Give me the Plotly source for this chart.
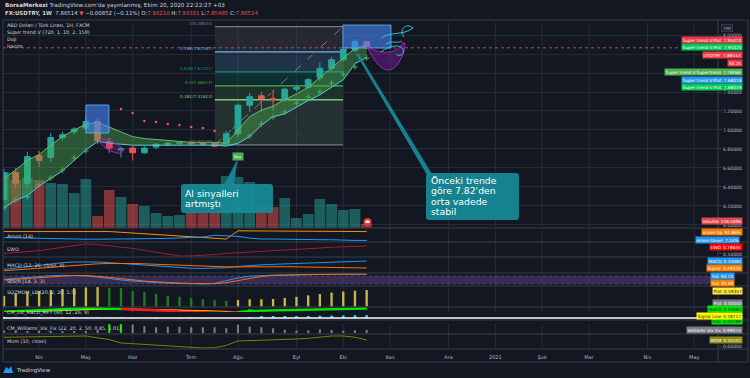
import math
from datetime import datetime, timedelta
import plotly.graph_objects as go

# ---------------- data (FX:USDTRY, 1W) ----------------
dates = ["2020-03-16", "2020-03-23", "2020-03-30", "2020-04-06", "2020-04-13",
         "2020-04-20", "2020-04-27", "2020-05-04", "2020-05-11", "2020-05-18",
         "2020-05-25", "2020-06-01", "2020-06-08", "2020-06-15", "2020-06-22",
         "2020-06-29", "2020-07-06", "2020-07-13", "2020-07-20", "2020-07-27",
         "2020-08-03", "2020-08-10", "2020-08-17", "2020-08-24", "2020-08-31",
         "2020-09-07", "2020-09-14", "2020-09-21", "2020-09-28", "2020-10-05",
         "2020-10-12", "2020-10-19"]

opens = [6.27, 6.55, 6.44, 6.73, 6.71, 6.92, 6.98, 7.02, 7.09, 6.88, 6.79, 6.81,
         6.76, 6.82, 6.85, 6.86, 6.865, 6.86, 6.86, 6.85, 6.96, 7.26, 7.36, 7.33,
         7.32, 7.43, 7.45, 7.55, 7.65, 7.74, 7.84, 7.93210]
highs = [6.59, 6.60, 6.77, 6.78, 6.97, 6.98, 7.03, 7.13, 7.12, 6.92, 6.83, 6.83,
         6.83, 6.86, 6.87, 6.88, 6.88, 6.87, 6.87, 6.99, 7.28, 7.39, 7.40, 7.42,
         7.44, 7.47, 7.55, 7.71, 7.77, 7.87, 7.96, 7.93331]
lows = [6.25, 6.39, 6.40, 6.61, 6.66, 6.89, 6.95, 7.00, 6.85, 6.76, 6.71, 6.68,
        6.75, 6.80, 6.83, 6.84, 6.84, 6.83, 6.82, 6.84, 6.92, 7.19, 7.19, 7.20,
        7.30, 7.40, 7.43, 7.52, 7.62, 7.72, 7.82, 7.85485]
closes = [6.55, 6.44, 6.72, 6.68, 6.92, 6.95, 7.01, 7.09, 6.89, 6.81, 6.80, 6.76,
          6.81, 6.85, 6.86, 6.865, 6.855, 6.85, 6.83, 6.96, 7.26, 7.35, 7.33, 7.32,
          7.43, 7.45, 7.53, 7.65, 7.74, 7.85, 7.93, 7.86514]
volume_k = [1624, 1392, 1450, 1392, 1305, 1276, 1015, 1421, 348, 1102, 899, 696,
            638, 435, 348, 377, 464, 464, 464, 1508, 1479, 1334, 609, 609, 870,
            290, 406, 841, 696, 522, 551, 116.549]

st_upper = [6.49, 6.58, 6.68, 6.74, 6.84, 6.93, 7.00, 7.06, 7.08, 7.03, 6.98, 6.93,
            6.91, 6.90, 6.89, 6.88, 6.87, 6.87, 6.87, 6.86, 7.00, 7.14, 7.21, 7.25,
            7.32, 7.38, 7.45, 7.55, 7.65, 7.76, 7.86, 7.89]
st_lower = [6.18, 6.26, 6.31, 6.41, 6.49, 6.57, 6.68, 6.79, 6.88, 6.86, 6.85, 6.84,
            6.84, 6.84, 6.84, 6.84, 6.84, 6.84, 6.84, 6.83, 6.86, 6.93, 7.05, 7.14,
            7.17, 7.24, 7.31, 7.37, 7.45, 7.53, 7.70, 7.76]
st_up_dots = [6.18, 6.263, 6.295, 6.421, 6.495, 6.579, 6.705, 6.779,
              None, None, None, None, None, None, None, None, None, None, None, None, None,
              6.937, 7.063, 7.137, 7.189, 7.284, 7.347, 7.400, 7.495, 7.589, 7.663, 7.758]
st_down_dots = [None, None, None, None, None, None, None, None, None, None,
                7.221, 7.179, 7.095, 7.084, 7.063, 7.053, 7.032, 7.021, 6.989,
                None, None, None, None, None, None, None, None, None, None, None, None, None]

aroon_up = [93, 93, 93, 93, 93, 93, 93, 93, 100, 93, 86, 79, 71, 64, 57, 50, 43, 36,
            29, 21, 100, 100, 100, 93, 100, 100, 100, 100, 100, 100, 100, 92.86]
aroon_down = [35, 32, 29, 25, 22, 19, 19, 19, 19, 19, 19, 21, 23, 25, 27, 31, 36, 40,
              57, 50, 46, 29, 21, 21, 18, 14, 14, 14, 14, 7, 7, 7.14]
ewo = [0.52, 0.55, 0.59, 0.62, 0.68, 0.74, 0.80, 0.86, 0.84, 0.80, 0.75, 0.70, 0.63,
       0.56, 0.49, 0.43, 0.43, 0.45, 0.48, 0.52, 0.55, 0.58, 0.60, 0.62, 0.64, 0.67,
       0.70, 0.72, 0.74, 0.76, 0.78, 0.78655]
macd = [0.285, 0.293, 0.302, 0.310, 0.318, 0.325, 0.329, 0.331, 0.329, 0.325, 0.320,
        0.315, 0.309, 0.303, 0.298, 0.294, 0.292, 0.291, 0.292, 0.295, 0.302, 0.308,
        0.312, 0.315, 0.318, 0.321, 0.324, 0.327, 0.329, 0.331, 0.333, 0.33481]
macd_signal = [0.277, 0.281, 0.286, 0.291, 0.297, 0.303, 0.309, 0.314, 0.318, 0.320,
               0.321, 0.320, 0.318, 0.315, 0.312, 0.308, 0.305, 0.303, 0.301, 0.300,
               0.300, 0.301, 0.302, 0.302, 0.301, 0.300, 0.299, 0.298, 0.297, 0.296,
               0.295, 0.29320]
stoch_k = [55, 62, 70, 78, 82, 85, 83, 80, 72, 60, 50, 42, 35, 30, 26, 24, 22, 20, 25,
           45, 65, 78, 84, 86, 88, 90, 91, 92, 93, 94, 93, 93.73]
stoch_d = [50, 56, 62, 70, 77, 82, 84, 83, 78, 70, 60, 50, 42, 36, 30, 27, 24, 22, 22,
           30, 45, 63, 76, 83, 86, 88, 90, 91, 92, 93, 93.5, 93.69]
sqz_mom = [0.38, 0.45, 0.52, 0.56, 0.59, 0.63, 0.66, 0.69, 0.70, 0.67, 0.66, 0.56, 0.52,
           0.45, 0.38, 0.35, 0.30, 0.26, 0.23, 0.20, 0.23, 0.26, 0.26, 0.27, 0.31, 0.35,
           0.40, 0.45, 0.50, 0.54, 0.57, 0.59357]
cm_macd = [0.303, 0.308, 0.314, 0.320, 0.326, 0.331, 0.335, 0.337, 0.336, 0.333, 0.330,
           0.327, 0.322, 0.317, 0.312, 0.306, 0.301, 0.297, 0.294, 0.293, 0.297, 0.310,
           0.314, 0.317, 0.320, 0.323, 0.326, 0.328, 0.330, 0.332, 0.334, 0.33481]
cm_signal = [0.295, 0.298, 0.302, 0.307, 0.312, 0.317, 0.322, 0.326, 0.329, 0.331, 0.329,
             0.330, 0.328, 0.325, 0.322, 0.318, 0.314, 0.310, 0.306, 0.302, 0.298, 0.297,
             0.296, 0.295, 0.294, 0.293, 0.292, 0.291, 0.290, 0.289, 0.288, 0.28712]
vix_fix = [0.9, 0.8, 0.6, 0.6, 0.5, 0.5, 0.5, 0.5, 1.0, 3.0, 3.0, 2.8, 2.3, 1.9, 2.1, 2.1,
           1.9, 1.9, 1.9, 1.6, 2.8, 2.1, 1.9, 1.6, 1.1, 0.8, 0.9, 1.2, 1.0, 0.8, 0.9, 0.99074]
vix_alert = [0, 0, 0, 0, 0, 0, 0, 0, 0, 1, 1, 0, 0, 0, 0, 0, 0, 0, 0, 0, 0, 0, 0, 0, 0,
             0, 0, 0, 0, 0, 0, 0]
mom = [0.75, 0.77, 0.78, 0.80, 0.80, 0.81, 0.82, 0.86, 0.70, 0.55, 0.26, 0.20, 0.12, 0.05,
       0.0, -0.09, -0.12, -0.17, -0.15, 0.05, 0.43, 0.46, 0.48, 0.50, 0.55, 0.60, 0.66,
       0.73, 0.86, 0.86, 0.75, 0.51551]

month_ticks = ["2020-04-06", "2020-05-04", "2020-06-01", "2020-07-06", "2020-08-03",
               "2020-09-07", "2020-10-05", "2020-11-02", "2020-12-07", "2021-01-04",
               "2021-02-01", "2021-03-01", "2021-04-05", "2021-05-03"]
month_labels = ["Nis", "May", "Haz", "Tem", "Ağu", "Eyl", "Eki", "Kas", "Ara", "2021",
                "Şub", "Mar", "Nis", "May"]
price_ticks = [6.0, 6.2, 6.4, 6.6, 6.8, 7.0, 7.2, 7.4, 7.6, 7.8, 8.0]
price_tick_text = ["6.00000", "6.20000", "6.40000", "6.60000", "6.80000", "7.00000",
                   "7.20000", "7.40000", "", "", "8.00000"]  # 7.6/7.8 hidden behind tags
fib_levels = [1, 0.786, 0.618, 0.5, 0.382, 0]
fib_low, fib_high = 6.84220, 8.08834
last_price = 7.86514

# ---------------- helpers ----------------
W0 = datetime(2020, 3, 16)


def W(f):
    return W0 + timedelta(days=7 * f)


def X(px):
    return (px - 3) / 715.0


def Y(py):
    return (349 - py) / 327.0


BG = "#131722"
GRID = "#262a35"
SEP = "#3a3e4a"
TXT = "#b2b5be"
LBL = "#d1d4dc"
FONT = "DejaVu Sans"
UP = "#26a69a"
DN = "#ef5350"
WEEK_MS = 7 * 86400000

fig = go.Figure()

# volume (base axis of the main pane, drawn behind price)
vol_colors = ["rgba(38,166,154,0.5)" if c >= o else "rgba(239,83,80,0.5)"
              for o, c in zip(opens, closes)]
fig.add_bar(x=dates, y=volume_k, marker=dict(color=vol_colors, line=dict(width=0)),
            width=WEEK_MS * 0.92, xaxis="x", yaxis="y")

# super trend band
fig.add_scatter(x=dates, y=st_lower, mode="lines", line=dict(color="#4dd0e1", width=1),
                xaxis="x", yaxis="y2")
fig.add_scatter(x=dates, y=st_upper, mode="lines", line=dict(color="#66bb6a", width=1),
                fill="tonexty", fillcolor="rgba(76,175,80,0.42)", xaxis="x", yaxis="y2")

# candles
fig.add_trace(go.Candlestick(
    x=dates, open=opens, high=highs, low=lows, close=closes,
    increasing=dict(line=dict(color=UP, width=1), fillcolor=UP),
    decreasing=dict(line=dict(color=DN, width=1), fillcolor=DN),
    whiskerwidth=0, xaxis="x", yaxis="y2"))

fig.add_scatter(x=dates, y=st_up_dots, mode="markers",
                marker=dict(symbol="cross-thin", size=4, color="#4caf50",
                            line=dict(color="#4caf50", width=1)),
                xaxis="x", yaxis="y2")
fig.add_scatter(x=dates, y=st_down_dots, mode="markers",
                marker=dict(symbol="circle", size=2.6, color="#ef5350"),
                xaxis="x", yaxis="y2")

# Aroon
fig.add_scatter(x=dates, y=aroon_up, mode="lines", line=dict(color="#fb8c00", width=1),
                xaxis="x", yaxis="y3")
fig.add_scatter(x=dates, y=aroon_down, mode="lines", line=dict(color="#2196f3", width=1),
                xaxis="x", yaxis="y3")
# EWO
fig.add_scatter(x=dates, y=ewo, mode="lines", line=dict(color="#a31c2e", width=1),
                xaxis="x", yaxis="y4")
# MACD
fig.add_scatter(x=dates, y=macd, mode="lines", line=dict(color="#2196f3", width=1),
                xaxis="x", yaxis="y5")
fig.add_scatter(x=dates, y=macd_signal, mode="lines", line=dict(color="#ff6d00", width=1),
                xaxis="x", yaxis="y5")
# Stoch
fig.add_scatter(x=dates, y=stoch_k, mode="lines", line=dict(color="#2196f3", width=1),
                xaxis="x", yaxis="y6")
fig.add_scatter(x=dates, y=stoch_d, mode="lines", line=dict(color="#ff6d00", width=1),
                xaxis="x", yaxis="y6")
# SQZMOM
sqz_colors = ["#c9b844" if (i == 0 or v >= sqz_mom[i - 1]) else "#1e7d1e"
              for i, v in enumerate(sqz_mom)]
fig.add_bar(x=dates, y=sqz_mom, marker=dict(color=sqz_colors, line=dict(width=0)),
            width=WEEK_MS * 0.2, xaxis="x", yaxis="y7")

# CM Ult MacD MTF : colored macd segments + signal + histogram
fig.add_scatter(x=dates, y=cm_signal, mode="lines", line=dict(color="#ffff00", width=1.2),
                xaxis="x", yaxis="y8")
state = [m >= s for m, s in zip(cm_macd, cm_signal)]
seg_start = 0
for i in range(1, len(dates) + 1):
    if i == len(dates) or state[i] != state[seg_start]:
        lo = max(seg_start - 1, 0)
        fig.add_scatter(x=dates[lo:i], y=cm_macd[lo:i], mode="lines",
                        line=dict(color="#00e600" if state[seg_start] else "#ff1a1a", width=2.4),
                        xaxis="x", yaxis="y8")
        seg_start = i
cross_idx = [i for i in range(1, len(dates)) if state[i] != state[i - 1]]
fig.add_scatter(x=[dates[i] for i in cross_idx], y=[cm_macd[i] for i in cross_idx],
                mode="markers",
                marker=dict(symbol="square", size=3.5,
                            color=["#00e600" if state[i] else "#ff1a1a" for i in cross_idx]),
                xaxis="x", yaxis="y8")
cm_hist = [m - s for m, s in zip(cm_macd, cm_signal)]
hist_colors = []
for i, h in enumerate(cm_hist):
    prev = cm_hist[i - 1] if i else h
    if h >= 0:
        hist_colors.append("#00e5ff" if h >= prev else "#2962ff")
    else:
        hist_colors.append("#ff1a1a" if h <= prev else "#880e4f")
fig.add_bar(x=dates, y=cm_hist, marker=dict(color=hist_colors, line=dict(width=0)),
            width=WEEK_MS * 0.22, xaxis="x", yaxis="y9")

# Williams Vix Fix
vix_colors = ["#00e600" if a else "#787b86" for a in vix_alert]
fig.add_bar(x=dates, y=vix_fix, marker=dict(color=vix_colors, line=dict(width=0)),
            width=WEEK_MS * 0.18, xaxis="x", yaxis="y10")
# Momentum
fig.add_scatter(x=dates, y=mom, mode="lines", line=dict(color="#808000", width=1),
                xaxis="x", yaxis="y11")


# ---------------- axes ----------------
def pane(lo, hi, rng, **kw):
    d = dict(domain=[Y(lo), Y(hi)], range=rng, anchor="x", showgrid=False,
             zeroline=False, showticklabels=False, ticks="", fixedrange=True,
             showline=False)
    d.update(kw)
    return d


tickfont = dict(size=4.6, color=TXT, family=FONT)
layout_axes = dict(
    yaxis=pane(228, 22, [0, 206 * 29]),
    yaxis2=dict(overlaying="y", side="right", anchor="x", range=[5.968, 8.137],
                tickvals=price_ticks, ticktext=price_tick_text,
                tickfont=tickfont, showgrid=True, gridcolor=GRID, gridwidth=1,
                zeroline=False, ticks="outside", ticklen=3, tickcolor=SEP,
                showline=False, fixedrange=True),
    yaxis3=pane(242, 230, [-8, 108]),
    yaxis4=pane(257, 242, [0.392, 0.930], side="right", showticklabels=True,
                tickvals=[0.5], ticktext=["0.50000"], tickfont=tickfont,
                ticks="outside", ticklen=3, tickcolor=SEP),
    yaxis5=pane(273, 257, [0.2635, 0.3586]),
    yaxis6=pane(286, 273, [5, 102]),
    yaxis7=pane(307, 286, [-0.02, 0.74]),
    yaxis8=pane(318, 307, [0.24, 0.35]),
    yaxis9=pane(324, 312, [-0.1, 0.1]),
    yaxis10=pane(333, 320, [0, 4.33]),
    yaxis11=pane(349, 335, [-0.258, 0.945], side="right", showticklabels=True,
                 tickvals=[0], ticktext=["0.00000"], tickfont=tickfont,
                 ticks="outside", ticklen=3, tickcolor=SEP),
    xaxis=dict(type="date", range=[W(-0.085), W(61.03)], domain=[0, 1], anchor="free",
               position=0, tickvals=month_ticks, ticktext=month_labels, showgrid=False,
               zeroline=False, ticks="", tickfont=dict(size=5, color=TXT, family=FONT),
               rangeslider=dict(visible=False), showline=False, fixedrange=True,
               ticklabelstandoff=4),
)

# ---------------- shapes ----------------
shapes = []
for t in month_ticks:
    shapes.append(dict(type="line", xref="x", yref="paper", x0=t, x1=t, y0=0, y1=1,
                       line=dict(color=GRID, width=1), layer="below"))
for py in [20, 228, 242, 257, 273, 286, 307, 320, 334, 349, 362]:
    shapes.append(dict(type="line", xref="paper", yref="paper", x0=X(3), x1=X(748),
                       y0=Y(py), y1=Y(py), line=dict(color=SEP, width=1), layer="above"))
for px in [3, 718, 748]:
    shapes.append(dict(type="line", xref="paper", yref="paper", x0=X(px), x1=X(px),
                       y0=Y(20), y1=Y(362), line=dict(color=SEP, width=1), layer="above"))
shapes.append(dict(type="line", xref="paper", yref="paper", x0=0, x1=X(714), y0=Y(318),
                   y1=Y(318), line=dict(color="#ffffff", width=1.6), layer="above"))
shapes.append(dict(type="rect", xref="paper", yref="y6", x0=0, x1=1, y0=20, y1=80,
                   fillcolor="rgba(126,87,194,0.32)", line=dict(width=0), layer="below"))
for lv in (20, 80):
    shapes.append(dict(type="line", xref="paper", yref="y6", x0=0, x1=1, y0=lv, y1=lv,
                       line=dict(color="#5d6070", width=0.6, dash="dot"), layer="below"))

# fib retracement
fib_colors = ["#787b86", "#64b5f6", "#089981", "#4caf50", "#81c784", "#787b86"]
fib_fill = ["rgba(120,123,134,0.18)", "rgba(100,181,246,0.18)", "rgba(8,153,129,0.18)",
            "rgba(76,175,80,0.18)", "rgba(129,199,132,0.16)"]
fib_prices = [fib_low + lv * (fib_high - fib_low) for lv in fib_levels]
for k in range(len(fib_levels) - 1):
    shapes.append(dict(type="rect", xref="x", yref="y2", x0=W(18.03), x1=W(28.97),
                       y0=fib_prices[k + 1], y1=fib_prices[k], fillcolor=fib_fill[k],
                       line=dict(width=0), layer="below"))
for k, p in enumerate(fib_prices):
    shapes.append(dict(type="line", xref="x", yref="y2", x0=W(18.03), x1=W(28.97),
                       y0=p, y1=p, line=dict(color=fib_colors[k], width=1.3), layer="below"))
shapes.append(dict(type="line", xref="x", yref="y2", x0=W(18.03), x1=W(28.97),
                   y0=fib_low, y1=fib_high, line=dict(color="#787b86", width=1, dash="dash"),
                   layer="below"))

shapes.append(dict(type="line", xref="paper", yref="y2", x0=0, x1=1, y0=last_price,
                   y1=last_price, line=dict(color="#ef5350", width=0.8, dash="dot"),
                   layer="above"))

for x0, x1, y0, y1 in [(7.0, 8.97, 6.968, 7.263), (28.97, 33.08, 7.863, 8.105)]:
    shapes.append(dict(type="rect", xref="x", yref="y2", x0=W(x0), x1=W(x1), y0=y0, y1=y1,
                       fillcolor="rgba(66,133,244,0.62)", line=dict(color="#64b5f6", width=0.8),
                       layer="above"))


def P(pts):
    return " ".join(("%s %.5f,%.5f" % (c, X(a), Y(b))) for c, a, b in pts)


ell = []
for j in range(25):
    t = 2 * math.pi * j / 24
    ex, ey = 13 * math.cos(t), 4.5 * math.sin(t)
    ang = math.radians(28)
    ell.append(("M" if j == 0 else "L", 111 + ex * math.cos(ang) - ey * math.sin(ang),
                146 + ex * math.sin(ang) + ey * math.cos(ang)))
shapes.append(dict(type="path", xref="paper", yref="paper", path=P(ell) + " Z",
                   fillcolor="rgba(156,39,176,0.25)", line=dict(color="#9c27b0", width=1),
                   layer="above"))
cres = ("M %.5f,%.5f Q %.5f,%.5f %.5f,%.5f Q %.5f,%.5f %.5f,%.5f Q %.5f,%.5f %.5f,%.5f Z" % (
    X(367), Y(47), X(384), Y(82), X(398), Y(64), X(407), Y(50), X(404), Y(42),
    X(392), Y(60), X(367), Y(47)))
shapes.append(dict(type="path", xref="paper", yref="paper", path=cres,
                   fillcolor="rgba(123,31,162,0.45)", line=dict(color="#9c27b0", width=1),
                   layer="above"))
for stroke in [
    "M %.5f,%.5f C %.5f,%.5f %.5f,%.5f %.5f,%.5f C %.5f,%.5f %.5f,%.5f %.5f,%.5f" % (
        X(381), Y(38), X(392), Y(31), X(402), Y(36), X(413), Y(28),
        X(406), Y(22), X(398), Y(30), X(404), Y(37)),
    "M %.5f,%.5f C %.5f,%.5f %.5f,%.5f %.5f,%.5f" % (
        X(386), Y(44), X(392), Y(40), X(398), Y(44), X(402), Y(41)),
    "M %.5f,%.5f C %.5f,%.5f %.5f,%.5f %.5f,%.5f C %.5f,%.5f %.5f,%.5f %.5f,%.5f" % (
        X(381), Y(52), X(390), Y(45), X(400), Y(44), X(403), Y(49),
        X(405), Y(55), X(399), Y(57), X(396), Y(54)),
]:
    shapes.append(dict(type="path", xref="paper", yref="paper", path=stroke,
                       line=dict(color="#26c6da", width=1), layer="above"))


def rrect(x0, y0, x1, y1, r):
    return ("M %.5f,%.5f L %.5f,%.5f Q %.5f,%.5f %.5f,%.5f L %.5f,%.5f Q %.5f,%.5f %.5f,%.5f "
            "L %.5f,%.5f Q %.5f,%.5f %.5f,%.5f L %.5f,%.5f Q %.5f,%.5f %.5f,%.5f Z") % (
        X(x0 + r), Y(y0), X(x1 - r), Y(y0), X(x1), Y(y0), X(x1), Y(y0 + r),
        X(x1), Y(y1 - r), X(x1), Y(y1), X(x1 - r), Y(y1),
        X(x0 + r), Y(y1), X(x0), Y(y1), X(x0), Y(y1 - r),
        X(x0), Y(y0 + r), X(x0), Y(y0), X(x0 + r), Y(y0))


CALL = "rgba(20,140,152,0.93)"
shapes.append(dict(type="path", xref="paper", yref="paper",
                   path=P([("M", 224, 185), ("L", 234, 185), ("L", 237.5, 159)]) + " Z",
                   fillcolor=CALL, line=dict(width=0), layer="above"))
shapes.append(dict(type="path", xref="paper", yref="paper", path=rrect(181, 184, 273, 213, 3),
                   fillcolor=CALL, line=dict(width=0), layer="above"))
shapes.append(dict(type="path", xref="paper", yref="paper",
                   path=P([("M", 356, 54), ("L", 358.5, 53.5), ("L", 432, 174), ("L", 426.5, 174)]) + " Z",
                   fillcolor=CALL, line=dict(width=0), layer="above"))
shapes.append(dict(type="path", xref="paper", yref="paper", path=rrect(426, 173, 519, 220, 3),
                   fillcolor=CALL, line=dict(width=0), layer="above"))

shapes.append(dict(type="circle", xref="paper", yref="paper", x0=X(363.5), x1=X(371.5),
                   y0=Y(226), y1=Y(218), fillcolor="#e53935", line=dict(width=0), layer="above"))
shapes.append(dict(type="rect", xref="paper", yref="paper", x0=X(365.5), x1=X(369.5),
                   y0=Y(223), y1=Y(220.5), fillcolor="#e3f2fd", line=dict(width=0), layer="above"))
shapes.append(dict(type="path", xref="paper", yref="paper",
                   path=P([("M", 3, 373), ("L", 6, 367), ("L", 9, 369), ("L", 11, 366),
                           ("L", 13, 373)]) + " Z",
                   fillcolor="#2196f3", line=dict(width=0), layer="above"))

# ---------------- annotations ----------------
ann = []


def text(t, xpx, ypx, size=5, color=LBL, xanchor="left", yanchor="middle", **kw):
    d = dict(text=t, x=X(xpx), y=Y(ypx), xref="paper", yref="paper", xanchor=xanchor,
             yanchor=yanchor, showarrow=False, font=dict(size=size, color=color, family=FONT))
    d.update(kw)
    ann.append(d)


RED = "#ef5350"
text("<b>BorsaMerkezi</b> TradingView.com'da yayınlanmış, Ekim 20, 2020 22:22:27 +03",
     3, 5.5, size=5.6)
text("<b>FX:USDTRY, 1W</b>  7.86514 <span style='color:%s'>▼</span> −0.00852 (−0.11%%) "
     "O:<span style='color:%s'>7.93210</span> H:<span style='color:%s'>7.93331</span> "
     "L:<span style='color:%s'>7.85485</span> C:<span style='color:%s'>7.86514</span>"
     % (RED, RED, RED, RED, RED), 3, 13.5, size=5.4)

for t, ypx in [("ABD Doları / Türk Lirası, 1H, FXCM", 25), ("Super trend V (720, 1, 10, 2, 150)", 32.5),
               ("Doji", 39.5), ("Hacim", 46.5), ("Aroon (14)", 236), ("EWO", 249),
               ("MACD (12, 26, close, 9)", 265), ("Stoch (14, 3, 3)", 280.5),
               ("SQZMOM_LB (20, 2, 20, 1.5)", 292.5), ("CM_Ult_MacD_MFT (60, 12, 26, 9)", 312),
               ("CM_Williams_Vix_Fix (22, 20, 2, 50, 0.85, 1.01)", 328.5), ("Mom (10, close)", 340.5)]:
    text(t, 6, ypx, size=4.9, color=LBL, borderpad=0)

for k, lv in enumerate(fib_levels):
    ann.append(dict(text="%s(%.5f)" % (("%g" % lv), fib_prices[k]), x=W(18.03), y=fib_prices[k],
                    xref="x", yref="y2", xanchor="right", yanchor="bottom", xshift=-1,
                    showarrow=False, borderpad=0,
                    font=dict(size=4.2, color=fib_colors[k], family=FONT)))

ann.append(dict(text="Buy", x=dates[20], y=Y(156.5), xref="x", yref="paper", showarrow=False,
                bgcolor="#4caf50", borderpad=1, font=dict(size=3.8, color="#ffffff", family=FONT)))

# callout texts (one line per annotation, tight TradingView-like leading)
for t, ypx in [("Al sinyalleri", 193.3), ("artmıştı", 203.8)]:
    text(t, 184, ypx, size=9.3, color="#ffffff", borderpad=0)
for t, ypx in [("Önceki trende", 180.5), ("göre 7.82'den", 190.9), ("orta vadede", 201.3),
               ("stabil", 211.7)]:
    text(t, 430, ypx, size=9.3, color="#ffffff", borderpad=0)


def tag(t, ypx, bg, fg="#ffffff", xr=743):
    ann.append(dict(text=t, x=X(xr), y=Y(ypx), xref="paper", yref="paper", xanchor="right",
                    yanchor="middle", showarrow=False, bgcolor=bg, borderpad=0.6,
                    font=dict(size=4.3, color=fg, family=FONT)))


SP = "\u2002"
tag("Super trend V:Plot" + SP + "7.95020", 40, "#f23645")
tag("Super trend V:Plot" + SP + "7.95020", 47.5, "#00c853")
tag("USDTRY" + SP + "7.86514", 55, "#f23645")
tag("3d 2h", 62.7, "#f23645")
tag("Super trend V:SuperTrend" + SP + "7.76066", 72, "#4caf50")
tag("Super trend V:Plot" + SP + "7.68019", 79.5, "#2196f3")
tag("Super trend V:Plot" + SP + "7.68019", 87, "#00c853")
tag("Volume" + SP + "116.549K", 221, "#e0474c")
tag("Aroon Up" + SP + "92.86%", 231.5, "#f57c00")
tag("Aroon Down" + SP + "7.14%", 239.5, "#2196f3", xr=740)
tag("EWO" + SP + "0.78655", 246.7, "#ff0000")
tag("MACD" + SP + "0.33481", 261, "#2196f3")
tag("Signal" + SP + "0.29320", 268, "#f57c00")
tag("%K" + SP + "93.73", 275.5, "#2196f3", xr=735)
tag("%D" + SP + "93.69", 283, "#f57c00", xr=735)
tag("Plot" + SP + "0.59357", 290.5, "#ffeb3b", fg="#131722")
tag("Plot" + SP + "0.00000", 302.5, "#787b86")
tag("Hist" + SP + "0.04769", 321, "#00e600", fg="#131722")
tag("MACD" + SP + "0.33481", 308.5, "#00e600", fg="#131722")
tag("Signal Line" + SP + "0.28712", 315.5, "#ffff00", fg="#131722")
tag("Williams Vix Fix" + SP + "0.99074", 330, "#787b86")
tag("MOM" + SP + "0.51551", 340, "#8d8a12")
ann.append(dict(text="TRY", x=X(733), y=Y(24.5), xref="paper", yref="paper", showarrow=False,
                bgcolor="#1e222d", bordercolor="#434651", borderwidth=0.6, borderpad=1,
                font=dict(size=4.2, color=TXT, family=FONT)))
text("TradingView", 14, 370, size=5.5, color=LBL)

fig.update_layout(
    width=750, height=378, autosize=False,
    margin=dict(l=3, r=32, t=22, b=29, pad=0),
    paper_bgcolor=BG, plot_bgcolor=BG,
    showlegend=False, barmode="overlay", hovermode=False,
    font=dict(family=FONT, color=TXT),
    shapes=shapes, annotations=ann,
    **layout_axes,
)

fig.write_html("out.html", config={"displayModeBar": False},
               post_script="document.body.style.margin='0';")
